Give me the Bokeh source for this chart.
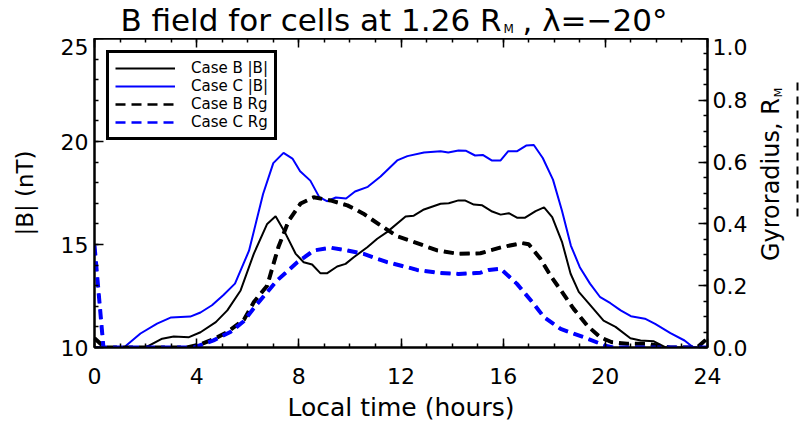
from math import pi

from bokeh.plotting import figure
from bokeh.layouts import column, row
from bokeh.models import (Range1d, LinearAxis, FixedTicker, NumeralTickFormatter,
                          Legend, LegendItem, Label, Arrow)
from bokeh.embed import file_html
from bokeh.resources import INLINE

FONT = "DejaVu Sans"
BLUE = "#0000ff"

# ---- |B| along the orbit, Case B (nT) ----
lt_bmag_b = [0, 2.0, 2.65, 3.1, 3.7, 4.15, 4.75, 5.2, 5.72, 6.24, 6.76, 7.09, 7.48,
             7.87, 8.19, 8.52, 8.85, 9.1, 9.5, 9.83, 10.15, 10.68, 11.07, 11.45,
             12.18, 12.5, 12.9, 13.55, 13.87, 14.25, 14.5, 14.85, 15.18, 15.57,
             15.9, 16.22, 16.54, 16.86, 17.27, 17.6, 17.92, 18.31, 18.64, 18.96,
             19.35, 19.93, 20.4, 20.98, 21.38, 21.9, 22.36, 24]
bmag_case_b = [10, 10, 10.43, 10.53, 10.5, 10.74, 11.23, 11.8, 12.77, 14.56, 16.0,
               16.37, 15.53, 14.56, 14.14, 14.03, 13.6, 13.6, 13.93, 14.06, 14.38,
               14.87, 15.28, 15.6, 16.36, 16.4, 16.7, 16.98, 17.0, 17.14, 17.14,
               16.94, 16.9, 16.6, 16.45, 16.52, 16.3, 16.3, 16.62, 16.8, 16.33,
               15.1, 13.58, 12.7, 12.14, 11.3, 11.0, 10.45, 10.34, 10.3, 10.0, 10.0]

# ---- |B| along the orbit, Case C (nT) ----
lt_bmag_c = [0, 1.15, 1.8, 2.45, 3.0, 3.75, 4.15, 4.6, 5.05, 5.5, 6.05, 6.6, 7.0,
             7.4, 7.75, 8.05, 8.45, 8.8, 9.1, 9.45, 9.85, 10.2, 10.7, 11.2, 11.85,
             12.25, 12.9, 13.55, 13.85, 14.25, 14.55, 14.9, 15.2, 15.55, 15.9,
             16.2, 16.55, 16.9, 17.2, 17.55, 17.95, 18.3, 18.65, 19.0, 19.4, 19.8,
             20.2, 20.6, 21.0, 21.55, 21.95, 22.55, 23.1, 23.45, 24]
bmag_case_c = [10, 10, 10.68, 11.16, 11.46, 11.5, 11.7, 12.05, 12.55, 13.1, 14.7,
               17.45, 18.95, 19.45, 19.17, 18.56, 18.1, 17.3, 17.1, 17.28, 17.23,
               17.57, 17.8, 18.3, 19.08, 19.29, 19.47, 19.53, 19.47, 19.56, 19.55,
               19.32, 19.35, 19.08, 19.08, 19.53, 19.53, 19.8, 19.83, 19.2, 18.15,
               16.65, 14.95, 13.9, 13.1, 12.44, 12.15, 11.8, 11.52, 11.4, 11.15,
               10.7, 10.34, 10.0, 10.0]

# ---- gyroradius, Case B (R_M) ----
lt_rg_b = [0, 0.4, 3.6, 4.15, 4.74, 5.2, 5.85, 6.24, 6.76, 7.2, 7.6, 8.07, 8.58,
           9.24, 9.9, 10.53, 11.2, 11.85, 12.63, 13.42, 14.25, 15.11, 15.96, 16.74,
           17.0, 17.46, 17.85, 18.31, 18.76, 19.29, 19.8, 20.26, 20.85, 21.6,
           22.55, 23.6, 24]
rg_case_b = [0.03, 0.0, 0.0, 0.01, 0.03, 0.05, 0.09, 0.147, 0.2, 0.325, 0.41,
             0.466, 0.486, 0.476, 0.46, 0.433, 0.395, 0.36, 0.338, 0.314, 0.303,
             0.305, 0.325, 0.338, 0.334, 0.287, 0.233, 0.179, 0.125, 0.071, 0.033,
             0.017, 0.012, 0.012, 0.0, 0.0, 0.03]

# ---- gyroradius, Case C (R_M) ----
lt_rg_c = [0, 0.35, 3.9, 4.66, 5.32, 5.83, 6.37, 7.15, 7.94, 8.59, 9.24, 9.9,
           10.54, 11.46, 12.24, 12.63, 13.42, 14.25, 15.11, 15.44, 15.9, 16.54,
           17.2, 17.6, 18.25, 19.16, 20.0, 20.3, 24]
rg_case_c = [0.33, 0.0, 0.0, 0.023, 0.05, 0.084, 0.141, 0.217, 0.276, 0.314, 0.323,
             0.314, 0.303, 0.276, 0.26, 0.251, 0.242, 0.238, 0.242, 0.251, 0.255,
             0.206, 0.141, 0.098, 0.06, 0.033, 0.006, 0.0, 0.0]

# ---- axes ----
lt_ticks = [0, 4, 8, 12, 16, 20, 24]
lt_minor = list(range(0, 25))
bmag_ticks = [10, 15, 20, 25]
bmag_minor = list(range(10, 26))
rg_ticks = [0.0, 0.2, 0.4, 0.6, 0.8, 1.0]
rg_minor = [i * 0.05 for i in range(21)]

series_labels = ["Case B |B|", "Case C |B|", "Case B Rg", "Case C Rg"]

TOTAL_H = 427
HEAD_H = 38
MAIN_H = TOTAL_H - HEAD_H


def blank_figure(w, h):
    """A figure whose drawing area fills the canvas, used for free text."""
    f = figure(width=w, height=h, x_range=Range1d(0, w), y_range=Range1d(0, h),
               output_backend="svg", toolbar_location=None,
               x_axis_location=None, y_axis_location=None,
               min_border=0, min_border_left=0, min_border_right=0,
               min_border_top=0, min_border_bottom=0)
    f.grid.visible = False
    f.outline_line_color = None
    f.background_fill_color = "white"
    f.border_fill_color = "white"
    return f


# ---- main panel ----
p = figure(width=752, height=MAIN_H, x_range=Range1d(0, 24), y_range=Range1d(10, 25),
           output_backend="svg", toolbar_location=None,
           x_axis_location=None, y_axis_location=None,
           min_border_left=94, min_border_right=45,
           min_border_top=0, min_border_bottom=80)
p.extra_y_ranges = {"rg": Range1d(0, 1)}
p.grid.visible = False
p.outline_line_color = "black"
p.outline_line_width = 2
p.background_fill_color = "white"
p.border_fill_color = "white"


def style_axis(ax, standoff):
    ax.axis_line_width = 2
    ax.axis_line_color = "black"
    ax.major_tick_in = 9
    ax.major_tick_out = 0
    ax.minor_tick_in = 4
    ax.minor_tick_out = 0
    ax.major_tick_line_width = 1.5
    ax.minor_tick_line_width = 1.5
    ax.major_label_text_font = FONT
    ax.major_label_text_font_size = "22px"
    ax.major_label_text_color = "black"
    ax.major_label_standoff = standoff
    ax.axis_label_text_font = FONT
    ax.axis_label_text_font_size = "25px"
    ax.axis_label_text_font_style = "normal"
    ax.axis_label_text_color = "black"


bottom = LinearAxis(ticker=FixedTicker(ticks=lt_ticks, minor_ticks=lt_minor),
                    axis_label="Local time (hours)")
style_axis(bottom, 20)
bottom.axis_label_standoff = 6
p.add_layout(bottom, "below")

# top edge: tick marks only
top = LinearAxis(ticker=FixedTicker(ticks=lt_ticks, minor_ticks=lt_minor))
style_axis(top, 0)
top.major_label_text_font_size = "0px"
top.major_label_text_color = None
p.add_layout(top, "above")

left = LinearAxis(ticker=FixedTicker(ticks=bmag_ticks, minor_ticks=bmag_minor),
                  axis_label="|B| (nT)")
style_axis(left, 6)
left.axis_label_text_font_size = "23px"
left.axis_label_standoff = 20
p.add_layout(left, "left")

right = LinearAxis(y_range_name="rg",
                   ticker=FixedTicker(ticks=rg_ticks, minor_ticks=rg_minor),
                   formatter=NumeralTickFormatter(format="0.0"))
style_axis(right, 5)
p.add_layout(right, "right")

# ---- curves ----
# thinner copies under the dashed curves serve as their legend keys
key_b_rg = p.line(lt_rg_b, rg_case_b, y_range_name="rg", line_color="black",
                  line_width=2.5, line_dash="10 6")
key_c_rg = p.line(lt_rg_c, rg_case_c, y_range_name="rg", line_color=BLUE,
                  line_width=2.5, line_dash="10 6")

r_b = p.line(lt_bmag_b, bmag_case_b, line_color="black", line_width=2)
r_c = p.line(lt_bmag_c, bmag_case_c, line_color=BLUE, line_width=2)
p.line(lt_rg_b, rg_case_b, y_range_name="rg", line_color="black", line_width=4,
       line_dash="10 6")
p.line(lt_rg_c, rg_case_c, y_range_name="rg", line_color=BLUE, line_width=4,
       line_dash="10 6")

items = [LegendItem(label=lbl, renderers=[r])
         for lbl, r in zip(series_labels, [r_b, r_c, key_b_rg, key_c_rg])]
legend = Legend(items=items, location=(12, 207), orientation="vertical",
                border_line_color="black", border_line_width=3,
                border_line_alpha=1.0,
                background_fill_color="white", background_fill_alpha=1.0,
                label_text_font=FONT, label_text_font_size="15px",
                label_text_color="black",
                glyph_width=60, glyph_height=18, label_height=18,
                label_standoff=16, spacing=0, padding=6, margin=0)
p.add_layout(legend)

# ---- title strip (with subscript M) ----
head = blank_figure(809, HEAD_H)
title_style = dict(text_baseline="top", text_font=FONT, text_font_size="31px",
                   text_color="black")
head.add_layout(Label(x=501, y=HEAD_H - 1, text="B field for cells at 1.26 R",
                      text_align="right", **title_style))
head.add_layout(Label(x=503, y=HEAD_H - 21, text="M", text_align="left",
                      text_baseline="top", text_font=FONT,
                      text_font_size="12px", text_color="black"))
head.add_layout(Label(x=522, y=HEAD_H - 1, text=", λ=−20°", text_align="left",
                      **title_style))

# ---- right strip: gyroradius axis title and its line-style key ----
side = blank_figure(57, MAIN_H)


def from_top(py):
    """Convert a distance from the top of the page to strip coordinates."""
    return TOTAL_H - py


side.add_layout(Label(x=18, y=from_top(113), text="Gyroradius, R", angle=pi / 2,
                      text_align="right", text_baseline="middle",
                      text_font=FONT, text_font_size="24px", text_color="black"))
side.add_layout(Label(x=26, y=from_top(112), text="M", angle=pi / 2,
                      text_align="left", text_baseline="middle", text_font=FONT,
                      text_font_size="11px", text_color="black"))
side.add_layout(Arrow(end=None, start=None, x_start=45, y_start=from_top(262),
                      x_end=45, y_end=from_top(88), line_color="black",
                      line_width=2, line_dash="8 6"))

layout = column(head, row(p, side, spacing=0), spacing=0)
open("out.html", "w").write(file_html(layout, INLINE))
